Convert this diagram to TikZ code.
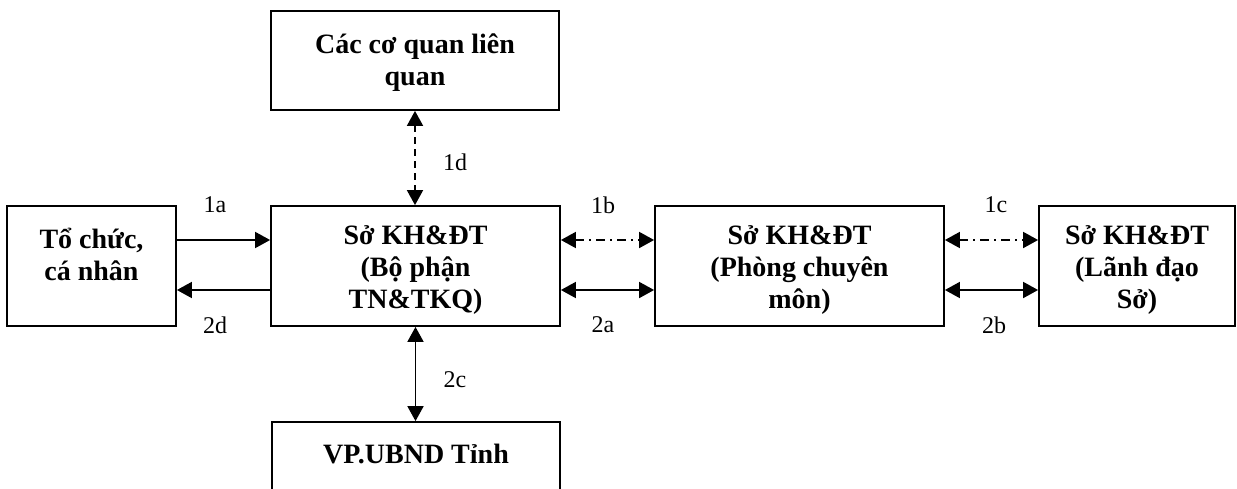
\documentclass[tikz,border=0pt]{standalone}
\usepackage{fontspec}
\setmainfont{Liberation Serif}
\usetikzlibrary{arrows.meta}
\begin{document}
\begin{tikzpicture}[x=1pt,y=-1pt,
  box/.style={draw,line width=1.8pt,inner sep=0pt},
  btext/.style={font=\fontsize{28}{32}\selectfont\bfseries,align=center,inner sep=0pt},
  lbl/.style={font=\fontsize{24}{27}\selectfont,inner sep=0pt},
  conn/.style={line width=1.8pt,-{Triangle[length=15pt,width=16pt]}},
  biconn/.style={line width=1.8pt,{Triangle[length=15pt,width=16pt]}-{Triangle[length=15pt,width=16pt]}},
  dashdot/.style={dash pattern=on 9pt off 5pt on 2pt off 5pt},
  dashline/.style={dash pattern=on 7pt off 5pt}]
\useasboundingbox (0,0) rectangle (1237,488);
\clip (0,0) rectangle (1237,488);
\fill[white] (0,0) rectangle (1237,488);
% boxes
\node[box,minimum width=288pt,minimum height=99pt] (top) at (415,60.5) {};
\node[box,minimum width=289pt,minimum height=120pt] (ctr) at (415.5,266) {};
\node[box,minimum width=288pt,minimum height=90pt] (bot) at (416,467) {};
\node[box,minimum width=169pt,minimum height=120pt] (lft) at (91.5,266) {};
\node[box,minimum width=289pt,minimum height=120pt] (mid) at (799.5,266) {};
\node[box,minimum width=196pt,minimum height=120pt] (rgt) at (1137,266) {};
% texts
\node[btext] (ttop) at (415,63) {Các cơ quan liên\\quan};
\node[btext] (tctr) at (415.5,270) {Sở KH\&ĐT\\(Bộ phận\\TN\&TKQ)};
\node[btext] (tbot) at (416,454) {VP.UBND Tỉnh};
\node[btext] (tlft) at (91.5,254) {Tổ chức,\\cá nhân};
\node[btext] (tmid) at (799.5,270) {Sở KH\&ĐT\\(Phòng chuyên\\môn)};
\node[btext] (trgt) at (1137,270) {Sở KH\&ĐT\\(Lãnh đạo\\Sở)};
% connectors
\draw[conn] ([yshift=26pt]lft.east) -- ([yshift=26pt]ctr.west);
\draw[conn] ([yshift=-24pt]ctr.west) -- ([yshift=-24pt]lft.east);
\draw[biconn,dashdot] ([yshift=26pt]ctr.east) -- ([yshift=26pt]mid.west);
\draw[biconn] ([yshift=-24pt]ctr.east) -- ([yshift=-24pt]mid.west);
\draw[biconn,dashdot] ([yshift=26pt]mid.east) -- ([yshift=26pt]rgt.west);
\draw[biconn] ([yshift=-24pt]mid.east) -- ([yshift=-24pt]rgt.west);
\draw[biconn,dashline] (top.south) -- (top.south |- ctr.north);
\draw[biconn] (ctr.south) -- (ctr.south |- bot.north);
% labels
\node[lbl] (l1a) at (215,205) {1a};
\node[lbl] (l2d) at (215,325) {2d};
\node[lbl] (l1b) at (603,205) {1b};
\node[lbl] (l2a) at (603,325) {2a};
\node[lbl] (l1c) at (996,205) {1c};
\node[lbl] (l2b) at (994,325) {2b};
\node[lbl] (l1d) at (455,162) {1d};
\node[lbl] (l2c) at (455,380) {2c};
\end{tikzpicture}
\end{document}
